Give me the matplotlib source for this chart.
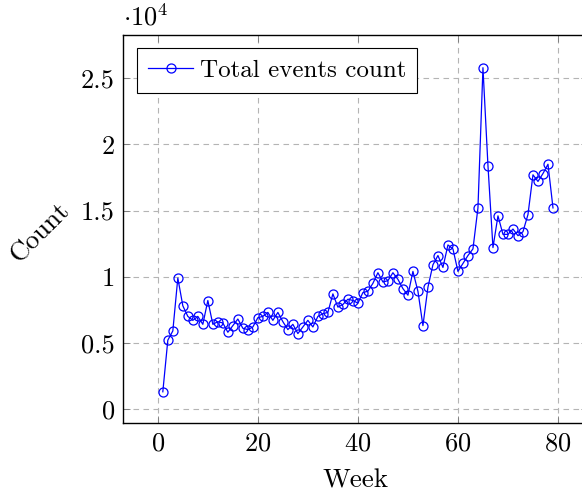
import matplotlib
matplotlib.use("Agg")
import matplotlib.pyplot as plt
from matplotlib.ticker import FuncFormatter, MultipleLocator

plt.rcParams['font.family'] = ['cmr10', 'DejaVu Serif']
plt.rcParams['mathtext.fontset'] = 'cm'
plt.rcParams['axes.formatter.use_mathtext'] = True

weeks = list(range(1, 80))
counts = [
    1300, 5200, 5900, 9900, 7800, 7000, 6700, 7000, 6400, 8200,
    6400, 6600, 6500, 5800, 6300, 6800, 6100, 6000, 6200, 6900,
    7000, 7300, 6700, 7300, 6600, 6000, 6400, 5700, 6200, 6700,
    6200, 7000, 7200, 7300, 8700, 7700, 7900, 8300, 8200, 8000,
    8800, 8900, 9500, 10300, 9600, 9700, 10300, 9800, 9100, 8600,
    10400, 8900, 6300, 9200, 10900, 11600, 10700, 12400, 12100, 10400,
    11000, 11600, 12100, 15200, 25800, 18400, 12200, 14600, 13200, 13200,
    13600, 13100, 13400, 14700, 17700, 17200, 17800, 18500, 15200,
]

fig = plt.figure(figsize=(5.82, 4.95), dpi=100)
ax = fig.add_axes([123 / 582, 72 / 495, 465 / 582, 388 / 495])

ax.plot(weeks, counts, color='#0000ff', linewidth=0.9, marker='o',
        markersize=6.5, markerfacecolor='none', markeredgewidth=0.9,
        label='Total events count')

ax.set_xlim(-6.96, 86)
ax.set_ylim(-1060, 28270)
ax.xaxis.set_major_locator(MultipleLocator(20))
ax.yaxis.set_major_locator(MultipleLocator(5000))
ax.yaxis.set_major_formatter(FuncFormatter(lambda v, p: '%g' % (v / 1e4)))

ax.grid(True, color='#b4b4b4', linestyle=(0, (5, 4)), linewidth=0.8)
ax.tick_params(direction='in', top=True, right=True, length=5,
               width=0.6, color='#777777', labelsize=19, pad=6)
for s in ax.spines.values():
    s.set_linewidth(1.0)

ax.set_xlabel('Week', fontsize=19.5, labelpad=10)
ax.set_ylabel('Count', fontsize=19.5, rotation=45)
ax.yaxis.label.set_va('center')
ax.yaxis.label.set_ha('center')
ax.yaxis.set_label_coords(-0.178, 0.49)
ax.text(0, 1.012, r'$\cdot 10^4$', transform=ax.transAxes, fontsize=19,
        ha='left', va='bottom')

leg = ax.legend(loc='upper left', bbox_to_anchor=(14 / 465, 1 - 13 / 388),
                fontsize=18, fancybox=False, framealpha=1, edgecolor='black',
                borderaxespad=0, handlelength=1.8, handletextpad=0.25,
                borderpad=0.45)
leg.get_frame().set_linewidth(0.8)

fig.savefig('out.png', dpi=100)
